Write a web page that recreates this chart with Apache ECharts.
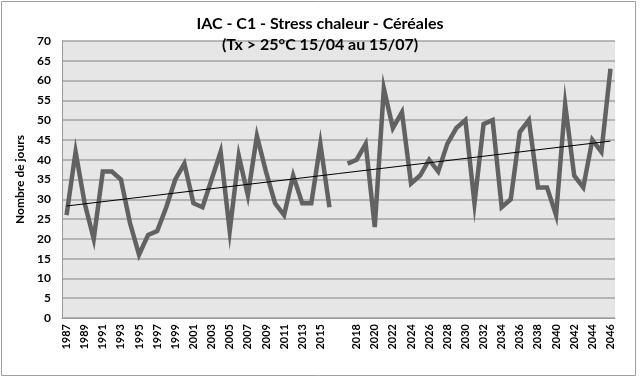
<!DOCTYPE html>
<html><head><meta charset="utf-8">
<script src="https://cdn.jsdelivr.net/npm/echarts@6/dist/echarts.min.js"></script>
<style>html,body{margin:0;padding:0;background:#fff}#c{width:640px;height:378px}</style>
</head><body><div id="c"></div>
<script>
// Categories: 1987..2016, one blank slot, 2017..2046
const yearsA = [1987,1988,1989,1990,1991,1992,1993,1994,1995,1996,1997,1998,1999,2000,2001,2002,2003,2004,2005,2006,2007,2008,2009,2010,2011,2012,2013,2014,2015,2016];
const yearsB = [2017,2018,2019,2020,2021,2022,2023,2024,2025,2026,2027,2028,2029,2030,2031,2032,2033,2034,2035,2036,2037,2038,2039,2040,2041,2042,2043,2044,2045,2046];
const valuesA = [26,42,29,20,37,37,35,24,16,21,22,28,35,39,29,28,35,42,22,41,31,46,37,29,26,36,29,29,44,28];
const valuesB = [39,40,44,23,58,48,52,34,36,40,37,44,48,50,29,49,50,28,30,47,50,33,33,26,54,36,33,45,42,63];
const trendStartEnd = [28.3, 44.7];
const yTicks = [0,5,10,15,20,25,30,35,40,45,50,55,60,65,70];

const categories = yearsA.map(String).concat([' '], yearsB.map(String));
const values = valuesA.concat([null], valuesB);

const FONT = 'Lato';
const chart = echarts.init(document.getElementById('c'), null, {renderer:'canvas'});
chart.setOption({
  animation:false,
  backgroundColor:'#fff',
  textStyle:{fontFamily:FONT},
  title:{
    text:'IAC - C1 - Stress chaleur - Céréales\n(Tx > 25°C 15/04 au 15/07)',
    left:'center', top:8,
    textStyle:{fontFamily:FONT, fontSize:16, fontWeight:'bold', color:'#000', lineHeight:21}
  },
  graphic:[{type:'rect', shape:{x:1.5,y:1.5,width:634,height:374}, style:{fill:null, stroke:'#a0a0a0', lineWidth:1}, z:-10}],
  grid:{left:62, right:25, top:41, bottom:60, containLabel:false, show:true, backgroundColor:'#e6e6e6', borderWidth:0},
  xAxis:{
    type:'category', data:categories, boundaryGap:true,
    axisLine:{show:true, lineStyle:{color:'#999', width:1}},
    axisTick:{show:false},
    axisLabel:{interval:1, rotate:90, fontFamily:FONT, fontSize:11, fontWeight:'bold', color:'#000', margin:6},
    splitLine:{show:false}
  },
  yAxis:{
    type:'value', min:yTicks[0], max:yTicks[yTicks.length-1], interval:5,
    name:'Nombre de jours', nameLocation:'middle', nameGap:27, nameRotate:90,
    nameTextStyle:{fontFamily:FONT, fontSize:12, fontWeight:'bold', color:'#000'},
    axisLine:{show:true, lineStyle:{color:'#999', width:1}},
    axisTick:{show:false},
    axisLabel:{fontFamily:FONT, fontSize:12, fontWeight:'bold', color:'#000', margin:11},
    splitLine:{show:true, lineStyle:{color:'#a3a3a3', width:1.5}}
  },
  series:[{
    type:'line', data:values, connectNulls:false, showSymbol:false, symbol:'none',
    lineStyle:{color:'#626262', width:4.5, join:'miter'},
    itemStyle:{color:'#626262'},
    markLine:{
      silent:true, symbol:'none', animation:false,
      lineStyle:{color:'#000', width:1, type:'solid'},
      label:{show:false},
      data:[[{coord:[categories[0], trendStartEnd[0]]},{coord:[categories[categories.length-1], trendStartEnd[1]]}]]
    }
  }]
});
</script></body></html>
